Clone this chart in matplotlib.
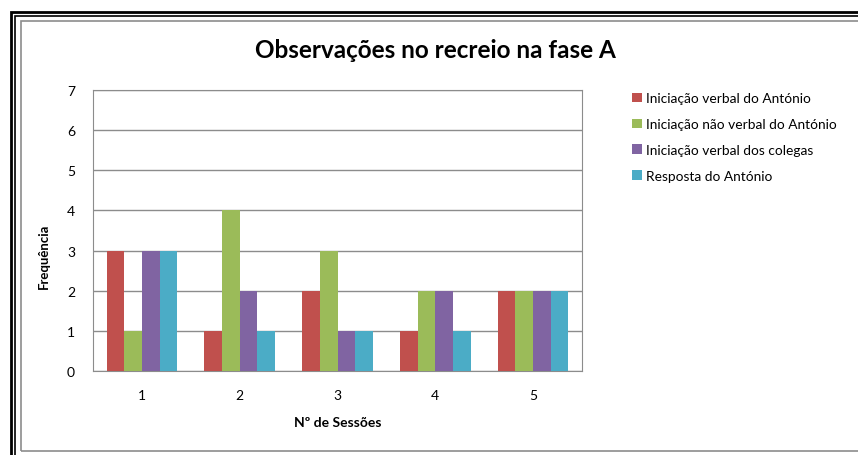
import numpy as np
import matplotlib.pyplot as plt
from matplotlib.patches import Rectangle

sessions = ["1", "2", "3", "4", "5"]
series_names = ["Iniciação verbal do António",
                "Iniciação não verbal do António",
                "Iniciação verbal dos colegas",
                "Resposta do António"]
verbal_antonio = [3, 1, 2, 1, 2]
nao_verbal_antonio = [1, 4, 3, 2, 2]
verbal_colegas = [3, 2, 1, 2, 2]
resposta_antonio = [3, 1, 1, 1, 2]
colors = ["#C0504D", "#9BBB59", "#8064A2", "#4BACC6"]

plt.rcParams['font.family'] = ['Lato', 'DejaVu Sans']

W, H = 858, 456
fig = plt.figure(figsize=(W / 100, H / 100), dpi=100)

# frame around the chart (pixel coords -> figure fraction)
def frame(x0, y0, x1, y1, color, lw):
    fig.patches.append(Rectangle((x0 / W, 1 - y1 / H), (x1 - x0) / W, (y1 - y0) / H,
                                 transform=fig.transFigure, fill=False,
                                 edgecolor=color, linewidth=lw))

frame(11, 13, 900, 500, "black", 2.0)
frame(15, 17, 900, 500, "black", 1.2)
frame(21, 22, 900, 452, "#8c8c8c", 1.2)

ax = fig.add_axes([93 / W, 1 - 372 / H, (582 - 93) / W, (372 - 91) / H])

x = np.arange(1, len(sessions) + 1)
width = 0.18
all_series = [verbal_antonio, nao_verbal_antonio, verbal_colegas, resposta_antonio]
for i, vals in enumerate(all_series):
    ax.bar(x + (i - 1.5) * width, vals, width, color=colors[i], label=series_names[i], zorder=3)

ax.set_xlim(0.5, 5.5)
ax.set_ylim(0, 7)
ax.set_yticks(range(0, 8))
ax.set_xticks(x)
ax.set_xticklabels(sessions)
ax.yaxis.grid(True, color="#8c8c8c", linewidth=1, zorder=0)
for s in ax.spines.values():
    s.set_color("#8c8c8c")
ax.tick_params(length=0, labelsize=10, pad=13)
ax.tick_params(axis='y', pad=13)

ax.set_ylabel("Frequência", fontsize=9.5, fontweight="bold")
ax.yaxis.set_label_coords(-0.088, 0.413)
ax.set_xlabel("Nº de Sessões", fontsize=10, fontweight="bold", labelpad=11)

fig.text(435 / W, 1 - 50 / H, "Observações no recreio na fase A", fontsize=17.5,
         fontweight="bold", ha="center", va="center")

ax.legend(loc="upper left", bbox_to_anchor=(620 / W, 1 - 81 / H),
          bbox_transform=fig.transFigure, frameon=False, fontsize=9.9,
          handlelength=0.7, handleheight=0.7, handletextpad=0.3, labelspacing=1.0)

fig.savefig("out.png", dpi=100)
